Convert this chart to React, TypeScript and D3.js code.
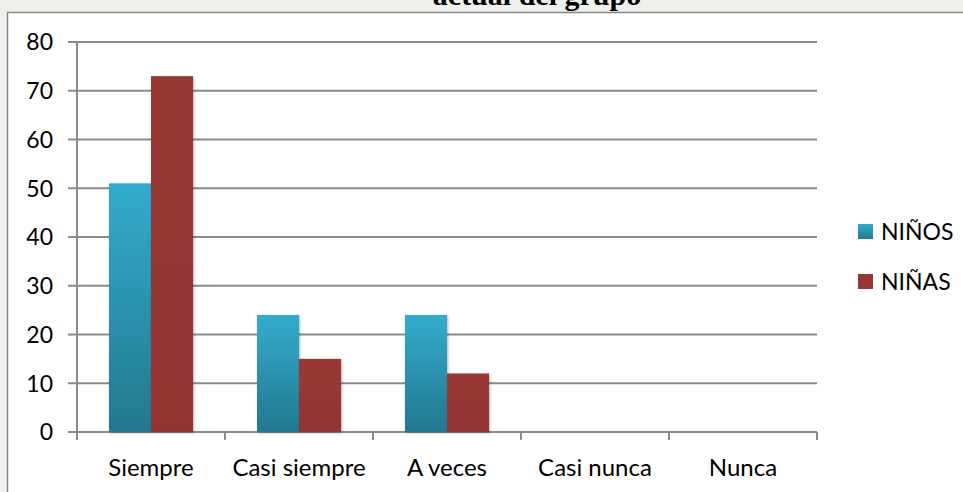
import React from "react";
import * as d3 from "d3";

const categories = ["Siempre", "Casi siempre", "A veces", "Casi nunca", "Nunca"];
const seriesNames = ["NIÑOS", "NIÑAS"];
const ninos = [51, 24, 24, 0, 0];
const ninas = [73, 15, 12, 0, 0];
const yTicks = [0, 10, 20, 30, 40, 50, 60, 70, 80];
const titleText = "actual del grupo";

const W = 963;
const H = 492;

export default function App() {
  const x = d3.scaleBand<string>().domain(categories).range([77, 817]).paddingInner(0).paddingOuter(0);
  const y = d3.scaleLinear().domain([0, 80]).range([432, 42]);
  const bw = 42;
  const font = "Lato, 'Open Sans', sans-serif";
  const grid = "#8a8a8a";
  const series = [ninos, ninas];

  return (
    <svg width={W} height={H} style={{ position: "absolute", left: 0, top: 0 }} xmlns="http://www.w3.org/2000/svg">
      <defs>
        <linearGradient id="gBlue" x1="0" y1="0" x2="0" y2="1">
          <stop offset="0%" stopColor="#33accd" />
          <stop offset="100%" stopColor="#237890" />
        </linearGradient>
        <linearGradient id="gRed" x1="0" y1="0" x2="0" y2="1">
          <stop offset="0%" stopColor="#983836" />
          <stop offset="100%" stopColor="#923533" />
        </linearGradient>
        <filter id="shadow" x="-20%" y="-10%" width="140%" height="120%">
          <feDropShadow dx="1" dy="1" stdDeviation="1.5" floodColor="#000" floodOpacity="0.3" />
        </filter>
      </defs>
      <rect x={0} y={0} width={W} height={H} fill="#ffffff" />
      <rect x={0} y={0} width={W} height={12} fill="#eef0ec" />
      <rect x={0} y={0} width={7} height={H} fill="#eef0ec" />
      <text x={537} y={5} textAnchor="middle" fontFamily="'Liberation Serif', 'DejaVu Serif', serif" fontWeight="bold" fontSize={30} fill="#000">
        {titleText}
      </text>
      <rect x={7.5} y={12.5} width={W} height={H} fill="#ffffff" stroke="#878787" strokeWidth={1.5} />

      {yTicks.map((t) => (
        <line key={"g" + t} x1={68} x2={817} y1={y(t)} y2={y(t)} stroke={grid} strokeWidth={2} />
      ))}
      <line x1={77} x2={77} y1={y(80)} y2={y(0) + 8} stroke={grid} strokeWidth={2} />
      {categories.map((c) => (
        <line key={"t" + c} x1={x(c)! + x.bandwidth()} x2={x(c)! + x.bandwidth()} y1={y(0)} y2={y(0) + 8} stroke={grid} strokeWidth={2} />
      ))}
      {yTicks.map((t) => (
        <text key={"yl" + t} x={53} y={y(t)} dy="0.36em" textAnchor="end" fontFamily={font} fontSize={23} fill="#000">
          {t}
        </text>
      ))}

      {series.map((vals, si) =>
        vals.map((v, i) =>
          v > 0 ? (
            <rect
              key={si + "-" + i}
              x={x(categories[i])! + x.bandwidth() / 2 - bw + si * bw}
              y={y(v)}
              width={bw}
              height={y(0) - y(v)}
              fill={si === 0 ? "url(#gBlue)" : "url(#gRed)"}
              filter="url(#shadow)"
            />
          ) : null
        )
      )}

      {categories.map((c) => (
        <text key={"xl" + c} x={x(c)! + x.bandwidth() / 2} y={467} dy="0.36em" textAnchor="middle" fontFamily={font} fontSize={24} fill="#000">
          {c}
        </text>
      ))}

      {seriesNames.map((s, i) => (
        <g key={s} transform={`translate(858, ${224 + i * 50})`}>
          <rect x={0} y={0} width={15} height={15} fill={i === 0 ? "url(#gBlue)" : "#963735"} />
          <text x={23} y={7.5} dy="0.36em" fontFamily={font} fontSize={23} fill="#000">
            {s}
          </text>
        </g>
      ))}
    </svg>
  );
}
